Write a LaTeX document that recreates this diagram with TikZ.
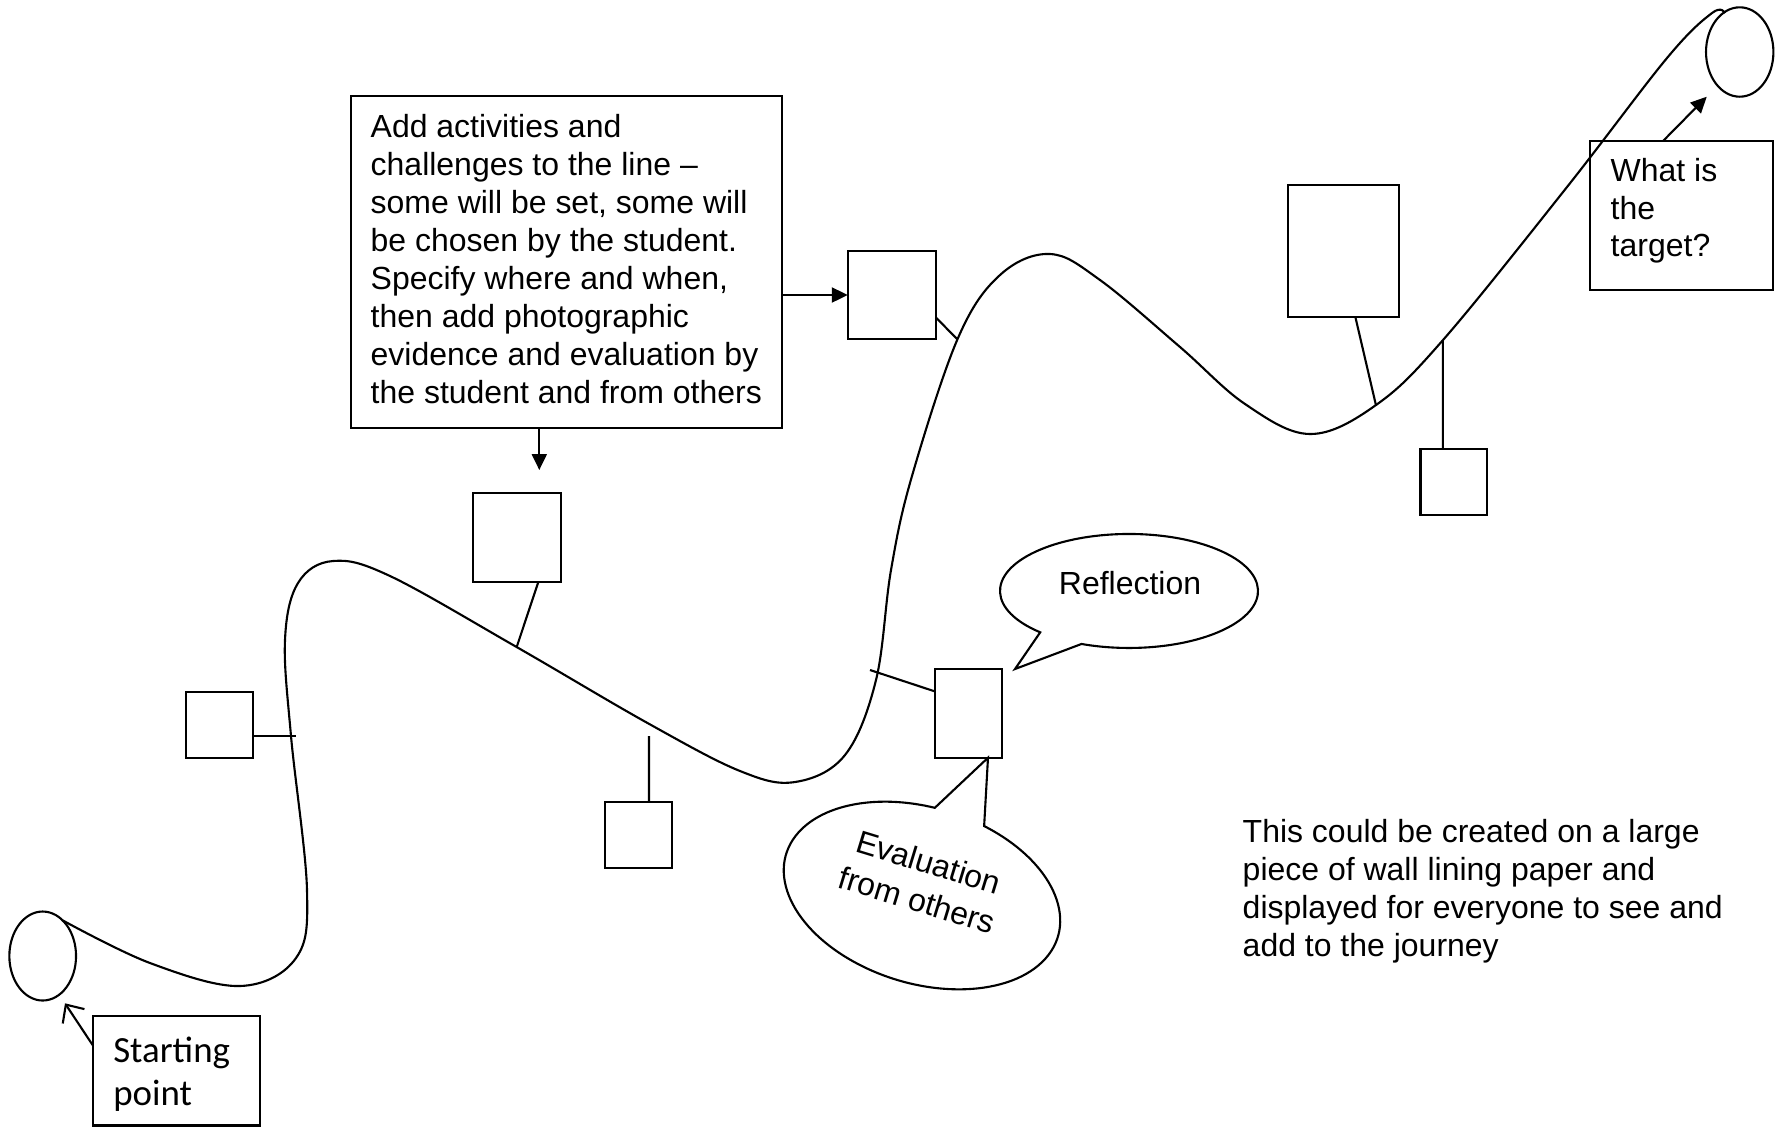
\documentclass[tikz,border=0pt]{standalone}
\usepackage{fontspec}
\setmainfont{Liberation Sans}
\newfontfamily\calibfont{Carlito}
\usetikzlibrary{arrows.meta,shapes.geometric,fit,calc}
\begin{document}
\begin{tikzpicture}[x=0.1mm,y=-0.1mm,
  ln/.style={line width=0.6pt},
  box/.style={draw,rectangle,line width=0.6pt,inner sep=0pt,outer sep=0pt},
  ell/.style={draw,ellipse,line width=0.6pt,inner sep=0pt,outer sep=0pt},
  arr/.style={line width=0.6pt,-{Triangle[length=1.6mm,width=1.5mm]}},
  barb/.style={line width=0.6pt,-{Straight Barb[length=1.4mm,width=2.6mm]}},
  txt/.style={inner sep=0pt,outer sep=0pt,align=left,anchor=north west,font=\fontsize{9.1pt}{10.8pt}\selectfont},
]
\useasboundingbox (0,0) rectangle (1783,1127);

% the journey line
\draw[ln,line join=round] plot[smooth,tension=0.6] coordinates {
 (62,920) (150,963) (240,986) (296,958) (307,890) (291,736) (285,640) (298,583) (333,561)
 (390,576) (516.6,647) (647.5,723) (740,771) (795,782) (845,755) (876,680) (891,570)
 (911.7,477) (958,338) (1000,275) (1050,254) (1100,280) (1180,347) (1245,404) (1310,434)
 (1376,405) (1443,340) (1567,187) (1667,58) (1712,13) (1725,13)};

% ends of the line
\node[ell,minimum width=6.67mm,minimum height=8.9mm] (startell) at (42.7,956) {};
\node[ell,minimum width=6.74mm,minimum height=8.94mm] (tgtell) at (1739.7,52) {};

% boxes
\node[box,fit={(350.7,96) (782,427.7)}] (mainbox) {};
\node[box,fit={(93,1016) (260,1125.5)}] (startbox) {};
\node[box,fit={(1590,140.7) (1773.3,290)}] (tgtbox) {};
\node[box,fit={(185.6,691.7) (253,757.7)}] (sbL) {};
\node[box,fit={(472.6,493.3) (561.4,581.7)}] (sbT) {};
\node[box,fit={(604.7,801.7) (671.6,868.3)}] (sbB) {};
\node[box,fit={(847.8,250.7) (935.7,339.3)}] (sb1) {};
\node[box,fit={(935.3,669) (1002,757.7)}] (sbM) {};
\node[box,fit={(1288.4,184.7) (1398.7,317)}] (sbTall) {};
\node[box,fit={(1420.5,449.3) (1486.6,515.3)}] (sb2) {};

% free ends on the line
\coordinate (t1) at (296.2,735.7);
\coordinate (t2) at (516.6,647.3);
\coordinate (t3) at (649,736);
\coordinate (t4) at (957.1,339);
\coordinate (t5) at (870,670);
\coordinate (t6) at (1375.9,405);
\coordinate (t7) at (1442.9,340);
\coordinate (downTip) at (539.3,470);
\coordinate (startTip) at (65,1003.3);
\coordinate (targetTip) at (1706.7,96.7);
\coordinate (reflTip) at (1015,669);

% ticks joining boxes to the line
\draw[ln] (sbL.east |- t1) -- (t1);
\draw[ln] ($(sbT.south west)!0.741!(sbT.south east)$) -- (t2);
\draw[ln] ($(sbB.north west)!0.662!(sbB.north east)$) -- (t3);
\draw[ln] ($(sb1.north east)!0.752!(sb1.south east)$) -- (t4);
\draw[ln] (t5) -- ($(sbM.north west)!0.254!(sbM.south west)$);
\draw[ln] ($(sbTall.south west)!0.607!(sbTall.south east)$) -- (t6);
\draw[ln] ($(sb2.north west)!0.339!(sb2.north east)$) -- (t7);

% arrows
\draw[arr] (mainbox.south -| downTip) -- (downTip);
\draw[arr] (mainbox.east |- sb1.west) -- (sb1.west);
\draw[arr] ($(tgtbox.north west)!0.4!(tgtbox.north east)$) -- (targetTip);
\draw[barb] ($(startbox.north west)!0.27!(startbox.south west)$) -- (startTip);

% Reflection callout (oval with pointer, one outline)
\draw[ln,line join=miter] (1040.2,632.3) arc[start angle=133.5,end angle=471.6,x radius=129,y radius=57] -- (reflTip) -- cycle;
\node[inner sep=0pt,anchor=base,font=\fontsize{9.1pt}{10.8pt}\selectfont] (refltext) at (1130,594) {Reflection};

% Evaluation callout (tilted oval with pointer to the box)
\coordinate (evalTip) at ($(sbM.south west)!0.79!(sbM.south east)$);
\begin{scope}[shift={(922,895.5)},rotate=-17]
  \draw[ln,line join=miter] (39.1,-84.6) arc[start angle=286,end angle=624.6,x radius=142,y radius=88] -- (evalTip) -- cycle;
\end{scope}
\node[inner sep=0pt,rotate=-17,align=center,font=\fontsize{9.1pt}{11.2pt}\selectfont] (evaltext) at (923,881) {Evaluation\\from others};

% texts
\node[txt] (maintext) at (370.7,114.8) {Add activities and\\challenges to the line –\\some will be set, some will\\be chosen by the student.\\Specify where and when,\\then add photographic\\evidence and evaluation by\\the student and from others};
\node[txt] (notetext) at (1242.7,819.5) {This could be created on a large\\piece of wall lining paper and\\displayed for everyone to see and\\add to the journey};
\node[txt,font=\fontsize{9.1pt}{10.7pt}\selectfont] (tgttext) at (1610.7,158.5) {What is\\the\\target?};
\node[txt,font=\calibfont\fontsize{10.5pt}{12.3pt}\selectfont] (starttext) at (113.3,1037) {Starting\\point};
\end{tikzpicture}
\end{document}
